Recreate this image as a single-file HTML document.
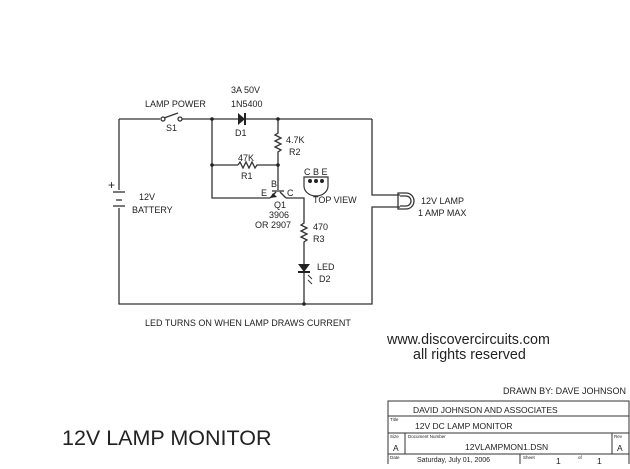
<!DOCTYPE html>
<html><head><style>
body{margin:0;background:#fff;}
svg text{font-family:"Liberation Sans",sans-serif;fill:#222;}
</style></head><body>
<svg width="630" height="464" viewBox="0 0 630 464" xmlns="http://www.w3.org/2000/svg">
<g stroke="#333" stroke-width="1.3" fill="none">
<polyline points="119,119 160,119"/>
<circle cx="163" cy="119" r="2"/><circle cx="180" cy="119" r="2"/>
<line x1="164" y1="118" x2="178" y2="113"/>
<polyline points="182,119 238,119"/>
<line x1="244" y1="119" x2="372" y2="119"/>
<polyline points="119,119 119,190"/>
<line x1="113" y1="192" x2="125" y2="192"/>
<line x1="116" y1="200" x2="122" y2="200"/>
<line x1="113" y1="206" x2="125" y2="206"/>
<polyline points="119,208 119,304 372,304 372,207 400,207"/>
<polyline points="372,119 372,195 400,195"/>
<path d="M398,193 L406,193 A8,8 0 0 1 406,209 L398,209 Z"/>
<path d="M400,196 L406,196 A5,5 0 0 1 406,206 L400,206"/>
<polyline points="212,119 212,198 270,198"/>
<line x1="212" y1="165" x2="238" y2="165"/>
<polyline points="238,165 240,162 243,168 246,162 249,168 252,162 255,168 257,165 278,165"/>
<polyline points="278,119 278,133 275,135 281,138 275,141 281,144 275,147 281,150 278,152 278,190"/>
<line x1="270" y1="198" x2="276" y2="192"/>
<line x1="280" y1="192" x2="286" y2="198"/>
<line x1="272" y1="191" x2="284" y2="191"/>
<polyline points="286,198 304,198 304,223 301,225 307,228 301,231 307,234 301,237 307,240 304,242 304,304"/>
</g>
<polygon points="273,193 277,197 270,198" fill="#222"/>
<polygon points="238,113 238,125 245,119" fill="#222"/>
<line x1="245" y1="113" x2="245" y2="125" stroke="#222" stroke-width="2"/>
<polygon points="298,264 310,264 304,272" fill="#222"/>
<line x1="298" y1="272" x2="310" y2="272" stroke="#222" stroke-width="2"/>
<g stroke="#333" stroke-width="1"><line x1="308" y1="275" x2="312" y2="279"/><line x1="308" y1="280" x2="312" y2="284"/></g>
<g fill="#222"><circle cx="212" cy="119" r="1.8"/><circle cx="278" cy="119" r="1.8"/><circle cx="212" cy="165" r="1.8"/><circle cx="278" cy="165" r="1.8"/><circle cx="304" cy="304" r="1.8"/></g>
<path d="M304,177 L328,177 L328,186 A12,10 0 0 1 304,186 Z" fill="none" stroke="#333" stroke-width="1.2"/>
<g fill="#222"><circle cx="310" cy="181" r="2"/><circle cx="316" cy="181" r="2"/><circle cx="322" cy="181" r="2"/></g>
<g font-size="9" style="font-weight:500">
<text x="145" y="107">LAMP POWER</text>
<text x="166" y="131">S1</text>
<text x="231" y="93">3A 50V</text>
<text x="231" y="107">1N5400</text>
<text x="235" y="136">D1</text>
<text x="286" y="143">4.7K</text>
<text x="289" y="155">R2</text>
<text x="238" y="161">47K</text>
<text x="241" y="179">R1</text>
<text x="271" y="187">B</text>
<text x="261" y="196">E</text>
<text x="287" y="196">C</text>
<text x="304" y="175">C B E</text>
<text x="313" y="203">TOP VIEW</text>
<text x="274" y="208">Q1</text>
<text x="269" y="218">3906</text>
<text x="255" y="228">OR 2907</text>
<text x="313" y="230">470</text>
<text x="313" y="242">R3</text>
<text x="317" y="270">LED</text>
<text x="319" y="282">D2</text>
<text x="139" y="200">12V</text>
<text x="132" y="213">BATTERY</text>
<text x="421" y="204">12V LAMP</text>
<text x="418" y="216">1 AMP MAX</text>
<text x="145" y="326">LED TURNS ON WHEN LAMP DRAWS CURRENT</text>
<text x="626" y="394" text-anchor="end">DRAWN BY: DAVE JOHNSON</text>
</g>
<text x="108" y="189" font-size="12">+</text>
<text x="387" y="344" font-size="14.3">www.discovercircuits.com</text>
<text x="413" y="359" font-size="14.3">all rights reserved</text>
<text x="62" y="445" font-size="21.5">12V LAMP MONITOR</text>
<g stroke="#333" stroke-width="1" fill="none">
<rect x="388" y="401" width="241" height="70"/>
<line x1="388" y1="416" x2="629" y2="416"/>
<line x1="388" y1="433" x2="629" y2="433"/>
<line x1="388" y1="454" x2="629" y2="454"/>
<line x1="405" y1="433" x2="405" y2="454"/>
<line x1="612" y1="433" x2="612" y2="454"/>
<line x1="520" y1="454" x2="520" y2="464"/>
</g>
<g font-size="8.5">
<text x="413" y="413">DAVID JOHNSON AND ASSOCIATES</text>
<text x="415" y="429">12V DC LAMP MONITOR</text>
<text x="465" y="450">12VLAMPMON1.DSN</text>
<text x="393" y="451">A</text><text x="617" y="451">A</text>
<text x="417" y="462" font-size="7">Saturday, July 01, 2006</text>
<text x="556" y="464">1</text><text x="597" y="464">1</text>
</g>
<g font-size="4.5"><text x="390" y="421">Title</text><text x="390" y="438">Size</text><text x="408" y="438">Document Number</text><text x="614" y="438">Rev</text><text x="390" y="459">Date</text><text x="523" y="459">Sheet</text><text x="578" y="459">of</text></g>
</svg>
</body></html>
